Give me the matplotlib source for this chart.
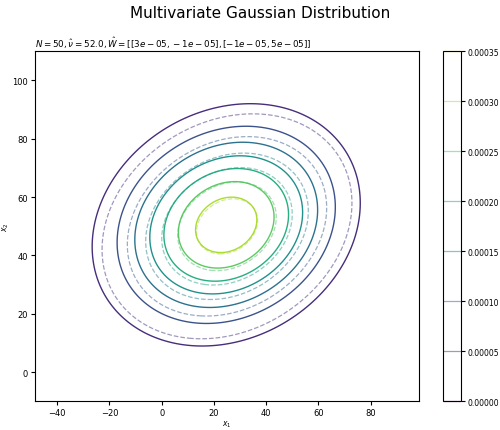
import numpy as np
import matplotlib
matplotlib.use("Agg")
import matplotlib.pyplot as plt

# estimated parameters (solid contours)
N = 50
nu_hat = 52.0
W_hat = np.array([[3.10e-05, -0.69e-05], [-0.69e-05, 4.73e-05]])
mu_hat = np.array([24.7, 50.5])

# true parameters (dashed contours)
mu_true = np.array([25.0, 50.0])
Sigma_true = np.array([[600.0, 100.0], [100.0, 390.0]])

x_range = [-48.5, 98.5]
y_range = [-10.0, 110.0]


def gauss_pdf(X, Y, mu, Sigma):
    P = np.linalg.inv(Sigma)
    dx = X - mu[0]
    dy = Y - mu[1]
    q = P[0, 0]*dx*dx + 2*P[0, 1]*dx*dy + P[1, 1]*dy*dy
    return np.exp(-0.5*q) / (2*np.pi*np.sqrt(np.linalg.det(Sigma)))


xs = np.linspace(x_range[0], x_range[1], 300)
ys = np.linspace(y_range[0], y_range[1], 300)
X, Y = np.meshgrid(xs, ys)

Sigma_hat = np.linalg.inv(nu_hat * W_hat)
Z_hat = gauss_pdf(X, Y, mu_hat, Sigma_hat)
Z_true = gauss_pdf(X, Y, mu_true, Sigma_true)

fig = plt.figure(figsize=(5, 4.31), dpi=100)
ax = fig.add_axes([0.07, 0.0666, 0.768, 0.812])
cax = fig.add_axes([0.886, 0.0666, 0.036, 0.812])

ax.contour(X, Y, Z_hat, cmap='viridis', linewidths=1.0)
cs = ax.contour(X, Y, Z_true, cmap='viridis', linestyles='dashed',
                linewidths=0.9, alpha=0.5)
cb = fig.colorbar(cs, cax=cax)
cb.ax.tick_params(labelsize=5.5, pad=1.5, length=3)

ax.set_xlim(x_range)
ax.set_ylim(y_range)
ax.set_xlabel('$x_1$', fontsize=5.5, labelpad=1)
ax.set_ylabel('$x_2$', fontsize=5.5, labelpad=1)
ax.tick_params(labelsize=6, length=3, pad=2)
W_txt = str(np.round(W_hat, 5).tolist())
ax.set_title('$N={}, \\hat{{\\nu}}={}, \\hat{{W}}={}$'.format(N, nu_hat, W_txt),
             loc='left', fontsize=6.3, pad=3)
fig.suptitle('Multivariate Gaussian Distribution', fontsize=11, x=0.52, y=0.985)

plt.savefig('out.png', dpi=100)
